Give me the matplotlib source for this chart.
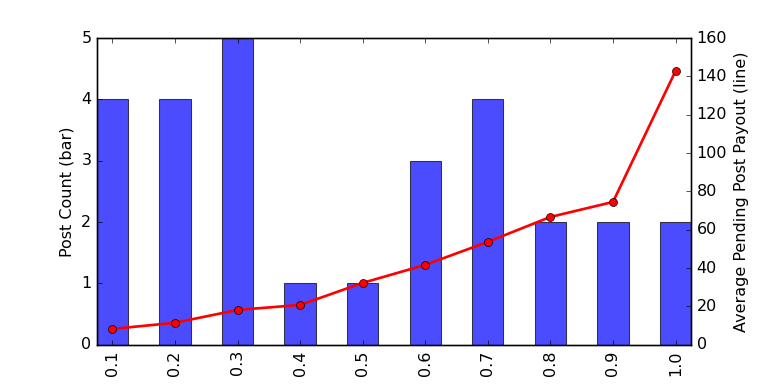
import matplotlib
matplotlib.use("Agg")
import matplotlib.pyplot as plt
import numpy as np

plt.style.use('classic')

# data
buckets = ['0.1', '0.2', '0.3', '0.4', '0.5', '0.6', '0.7', '0.8', '0.9', '1.0']
post_count = [4, 4, 5, 1, 1, 3, 4, 2, 2, 2]
avg_payout = [8.3, 11.5, 18.2, 20.8, 32.3, 41.7, 53.7, 66.7, 74.5, 142.8]

fig = plt.figure(figsize=(8, 4), dpi=96)
ax = fig.add_axes([0.126, 0.102, 0.774, 0.799])
x = np.arange(len(buckets))

ax.bar(x, post_count, width=0.5, align='center', color='b', alpha=0.7,
       edgecolor='k', linewidth=0.8)
ax.set_xlim(-0.25, len(buckets) - 0.75)
ax.set_ylim(0, 5)
ax.set_xticks(x)
ax.set_xticklabels(buckets, rotation=90)
ax.set_ylabel('Post Count (bar)')
# x label falls mostly below the figure edge, as in the reference
ax.set_xlabel('Percentile', labelpad=8)

ax2 = ax.twinx()
ax2.plot(x, avg_payout, color='r', marker='o', linewidth=2, markersize=6)
ax2.set_ylim(0, 160)
ax2.set_xlim(-0.25, len(buckets) - 0.75)
ax2.set_ylabel('Average Pending Post Payout (line)')

fig.savefig('out.png', dpi=96)
